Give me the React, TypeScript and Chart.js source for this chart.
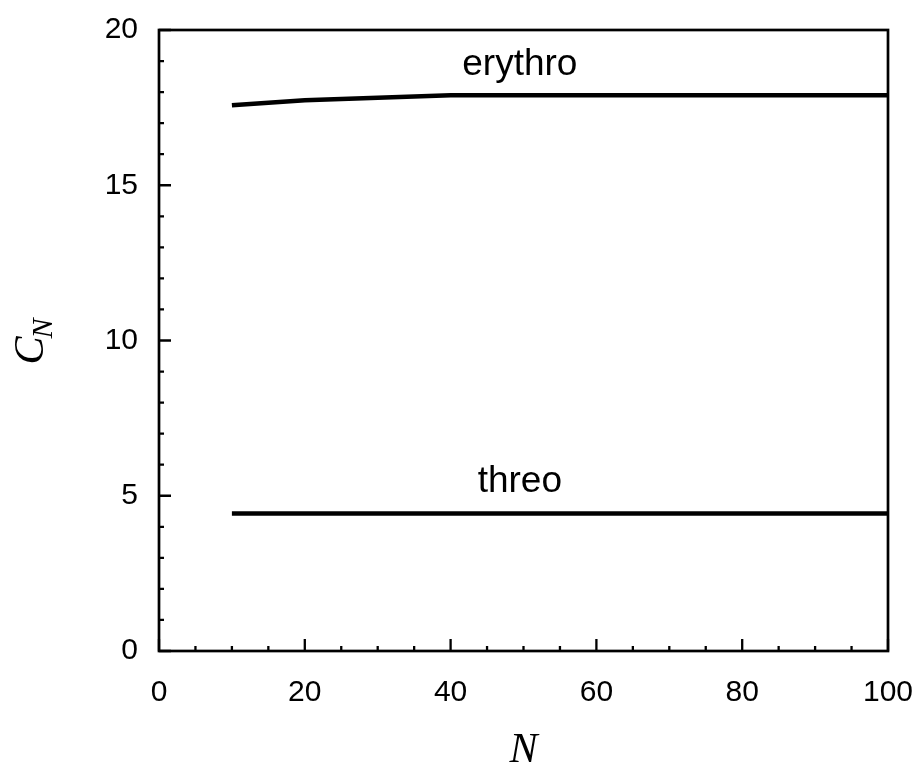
import React, { useEffect, useRef } from "react";
import { Chart, registerables } from "chart.js";

Chart.register(...registerables);

const erythroN = [10, 20, 30, 40, 50, 60, 70, 80, 90, 100];
const erythroC = [17.58, 17.74, 17.82, 17.9, 17.9, 17.9, 17.9, 17.9, 17.9, 17.9];
const threoN = [10, 20, 30, 40, 50, 60, 70, 80, 90, 100];
const threoC = [4.43, 4.43, 4.43, 4.43, 4.43, 4.43, 4.43, 4.43, 4.43, 4.43];

const curveLabels = ["erythro", "threo"];
const curveLabelX = [49.5, 49.5];
const curveLabelY = [18.55, 5.12];

const xMajorTicks = [0, 20, 40, 60, 80, 100];
const yMajorTicks = [0, 5, 10, 15, 20];
const xMinorStep = 5;
const yMinorStep = 1;

const xTitle = "N";
const yTitleMain = "C";
const yTitleSub = "N";

export default function App() {
  const ref = useRef<HTMLCanvasElement | null>(null);

  useEffect(() => {
    const canvas = ref.current;
    if (!canvas) return;

    const framePlugin = {
      id: "frame",
      afterDraw(chart: any) {
        const ctx = chart.ctx as CanvasRenderingContext2D;
        const { left, right, top, bottom } = chart.chartArea;
        const xs = chart.scales.x;
        const ys = chart.scales.y;
        ctx.save();
        ctx.strokeStyle = "#000";
        ctx.lineWidth = 2.7;
        ctx.strokeRect(left, top, right - left, bottom - top);
        ctx.lineWidth = 2.3;
        ctx.beginPath();
        for (let v = 0; v <= 100 + 1e-9; v += xMinorStep) {
          const px = xs.getPixelForValue(v);
          const major = xMajorTicks.includes(v);
          ctx.moveTo(px, bottom);
          ctx.lineTo(px, bottom - (major ? 12 : 5));
        }
        for (let v = 0; v <= 20 + 1e-9; v += yMinorStep) {
          const py = ys.getPixelForValue(v);
          const major = yMajorTicks.includes(v);
          ctx.moveTo(left, py);
          ctx.lineTo(left + (major ? 12 : 5), py);
        }
        ctx.stroke();

        // curve labels
        ctx.fillStyle = "#000";
        ctx.font = '37px "Liberation Sans", Arial, sans-serif';
        ctx.textAlign = "center";
        ctx.textBaseline = "alphabetic";
        curveLabels.forEach((t, i) => {
          ctx.fillText(t, xs.getPixelForValue(curveLabelX[i]), ys.getPixelForValue(curveLabelY[i]));
        });

        // x title
        ctx.font = 'italic 42px "Liberation Serif", "Times New Roman", serif';
        ctx.textAlign = "center";
        ctx.fillText(xTitle, (left + right) / 2, 762);

        // y title (rotated)
        ctx.translate(43, (top + bottom) / 2);
        ctx.rotate(-Math.PI / 2);
        ctx.font = 'italic 42px "Liberation Serif", "Times New Roman", serif';
        const wC = ctx.measureText(yTitleMain).width;
        ctx.font = 'italic 30px "Liberation Serif", "Times New Roman", serif';
        const wN = ctx.measureText(yTitleSub).width;
        const total = wC + wN;
        ctx.textAlign = "left";
        ctx.font = 'italic 42px "Liberation Serif", "Times New Roman", serif';
        ctx.fillText(yTitleMain, -total / 2, 0);
        ctx.font = 'italic 30px "Liberation Serif", "Times New Roman", serif';
        ctx.fillText(yTitleSub, -total / 2 + wC - 2, 9);
        ctx.restore();
      },
    };

    const chart = new Chart(canvas, {
      type: "line",
      data: {
        datasets: [
          {
            label: "erythro",
            data: erythroN.map((n, i) => ({ x: n, y: erythroC[i] })),
            borderColor: "#000",
            borderWidth: 4.5,
            pointRadius: 0,
            tension: 0,
            fill: false,
          },
          {
            label: "threo",
            data: threoN.map((n, i) => ({ x: n, y: threoC[i] })),
            borderColor: "#000",
            borderWidth: 4.5,
            pointRadius: 0,
            tension: 0,
            fill: false,
          },
        ],
      },
      options: {
        responsive: false,
        animation: false,
        devicePixelRatio: 1,
        layout: { padding: { top: 30, right: 33, left: 0, bottom: 0 } },
        plugins: { legend: { display: false }, tooltip: { enabled: false } },
        scales: {
          x: {
            type: "linear",
            min: 0,
            max: 100,
            grid: { display: false, drawTicks: false },
            border: { display: false },
            ticks: {
              stepSize: 20,
              padding: 24,
              color: "#000",
              font: { family: '"Liberation Sans", Arial, sans-serif', size: 30 },
              maxRotation: 0,
            },
            afterFit: (s: any) => {
              s.height = 115;
              s.paddingLeft = 0;
              s.paddingRight = 0;
            },
          },
          y: {
            type: "linear",
            min: 0,
            max: 20,
            grid: { display: false, drawTicks: false },
            border: { display: false },
            ticks: {
              stepSize: 5,
              padding: 21,
              color: "#000",
              font: { family: '"Liberation Sans", Arial, sans-serif', size: 30 },
            },
            afterFit: (s: any) => {
              s.width = 159;
              s.paddingTop = 0;
              s.paddingBottom = 0;
            },
          },
        },
      },
      plugins: [framePlugin],
    });
    return () => chart.destroy();
  }, []);

  return (
    <div style={{ position: "absolute", left: 0, top: 0, width: 921, height: 766, background: "#fff" }}>
      <canvas ref={ref} width={921} height={766} />
    </div>
  );
}
